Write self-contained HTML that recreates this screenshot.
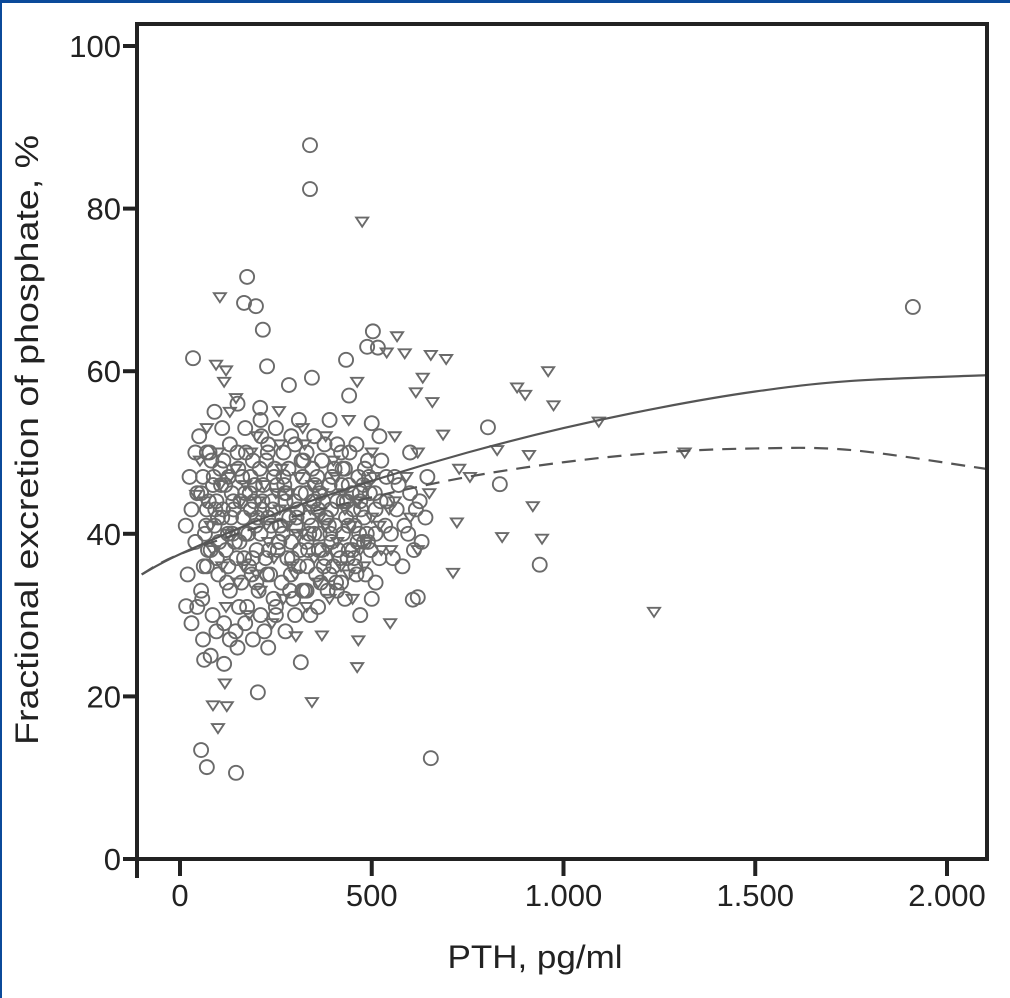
<!DOCTYPE html>
<html><head><meta charset="utf-8"><style>
html,body{margin:0;padding:0;background:#fff}
svg{display:block}
text{font-family:"Liberation Sans",sans-serif;fill:#222}
</style></head><body>
<svg id="chart" width="1010" height="998" viewBox="0 0 1010 998">
<rect x="0" y="0" width="1010" height="998" fill="#fff"/>
<rect x="0" y="0" width="1010" height="3" fill="#0b4a9a"/>
<rect x="0" y="0" width="2" height="998" fill="#0b4a9a"/>
<g id="marks"></g>
<g id="curves"></g>
<g id="axes"></g>
<text x="38" y="440" font-size="32" text-anchor="middle" textLength="610" lengthAdjust="spacingAndGlyphs" transform="rotate(-90 38 440)">Fractional excretion of phosphate, %</text>
<text x="535" y="968" font-size="32" text-anchor="middle" textLength="175" lengthAdjust="spacingAndGlyphs">PTH, pg/ml</text>
</svg>
<script>
const xTicks=[0,500,1000,1500,2000];
const xTickLabels=["0","500","1.000","1.500","2.000"];
const yTicks=[0,20,40,60,80,100];
const yTickLabels=["0","20","40","60","80","100"];
const circleX=[339,339,1911,175,167,198,216,34,227,503,516,654,146,55,70,938,834,803,607,16,620,315,63,203,433,441,488,209,284,344,500,
60,75,90,105,120,135,150,165,180,195,210,225,240,255,270,285,300,315,330,345,360,375,390,405,420,435,450,465,480,495,510,525,540,555,570,585,600,615,630,645,
40,55,70,85,100,115,130,145,160,175,190,205,220,235,250,265,280,295,310,325,340,355,370,385,400,420,440,460,480,500,520,550,580,610,640,
50,70,90,110,130,150,170,190,210,230,250,270,290,310,330,350,370,390,410,430,460,490,520,560,600,
30,45,65,80,95,110,125,140,155,170,185,200,215,230,245,260,275,290,305,320,335,350,365,380,395,410,425,440,455,470,490,510,535,565,595,625,
60,80,95,115,130,150,170,190,210,230,250,275,300,330,360,390,430,470,510,20,30,45,15,25,40,
70,88,102,118,133,148,162,178,193,208,223,238,253,268,283,298,313,328,343,358,373,388,403,418,433,448,463,478,493,508,523,538,
55,68,82,96,112,127,143,158,172,187,202,217,232,247,262,277,292,307,322,337,352,367,382,397,412,427,442,457,472,487,
62,77,92,107,122,137,152,167,182,197,212,227,242,257,272,287,302,317,332,347,362,377,392,407,422,437,452,467,482,497,
58,73,86,99,113,126,139,154,169,184,199,214,229,244,259,274,289,304,319,334,349,364,379,394,409,424,439,454,469,484];
const circleY=[87.8,82.4,67.9,71.6,68.4,68,65.1,61.6,60.6,64.9,62.9,12.4,10.6,13.4,11.3,36.2,46.1,53.1,31.9,31.1,32.2,24.2,24.5,20.5,61.4,57,63,55.5,58.3,59.2,53.6,
47,44,41,48,38,45,50,42,36,46,40,49,44,38,47,42,51,45,39,48,43,36,46,41,50,44,38,47,42,45,40,49,44,37,46,41,50,43,39,47,
39,33,36,30,35,29,33,28,34,31,37,33,28,35,30,34,37,32,36,33,30,35,38,33,36,34,38,35,39,32,37,40,36,38,42,
52,50,55,53,51,56,53,49,54,51,53,50,52,54,50,52,49,54,51,48,51,49,52,47,45,
43,45,40,38,44,42,40,43,39,45,43,38,44,42,47,41,44,39,43,47,42,40,45,42,39,44,40,46,41,44,39,43,41,43,40,44,
27,25,28,24,27,26,29,27,30,26,31,28,30,33,31,35,32,30,34,35,29,31,41,47,50,
43,47,39,46,42,37,47,40,44,48,37,41,46,40,48,44,38,45,41,47,44,41,48,37,42,45,39,46,47,45,44,47,
45,41,49,37,43,47,39,44,50,35,42,46,38,48,41,45,37,43,49,40,46,34,42,47,38,44,50,36,43,40,
36,50,43,46,34,40,48,37,45,41,52,35,43,39,46,33,41,49,36,44,38,51,40,34,46,37,43,40,48,38,
32,38,46,42,49,36,44,31,40,47,34,43,50,32,39,45,35,42,33,38,44,40,37,43,33,48,41,37,45,35];
const triX=[475,104,566,694,960,974,879,900,1092,1316,1236,944,840,712,827,728,722,462,465,344,302,548,370,86,99,122,117,539,462,654,658,615,633,586,258,146,120,115,94,42,52,686,756,920,910,
100,130,160,190,220,250,280,310,340,370,400,430,460,490,520,560,590,620,650,80,110,140,170,200,230,260,290,320,350,380,410,440,470,500,550,600,120,150,180,210,240,270,300,330,360,390,420,450,480,70,130,200,260,320,380,440,500,560,620,
65,85,105,125,145,165,185,205,225,245,265,285,305,325,345,365,385,405,425,445,465,485,505,525,545];
const triY=[78.4,69.1,64.3,61.5,60,55.8,58,57.1,53.8,50,30.4,39.4,39.6,35.2,50.3,48,41.4,23.6,26.9,19.3,27.4,29,27.5,18.9,16.1,18.8,21.6,62.3,58.7,62,56.2,57.4,59.2,62.2,55.1,56.7,60.1,58.7,60.8,44.8,49,52.2,47,43.4,49.7,
50,47,44,42,46,45,41,47,43,45,49,43,44,46,41,44,47,38,45,41,36,40,46,35,39,43,36,40,37,41,39,35,38,42,38,42,31,34,30,33,29,32,35,31,34,32,36,32,36,53,55,52,51,53,52,54,50,52,50,
44,38,46,40,48,36,50,44,41,37,48,45,40,51,46,42,38,47,45,41,44,39,47,38,43];
const solidX=[-100,0,250,500,750,1000,1250,1500,1750,2100];
const solidY=[35,37.5,42.5,46.5,50,53,55.5,57.5,58.8,59.5];
const dashX=[-100,0,250,500,750,1000,1250,1500,1750,2100];
const dashY=[35,37.5,41.5,44.5,47,48.8,50,50.5,50.3,48];

const NS="http://www.w3.org/2000/svg";
const L=137,R=987,T=24,B=859;
function sx(v){return 180+v*0.3835;}
function sy(v){return B-v*8.13;}
function mk(t,a,p){const e=document.createElementNS(NS,t);for(const k in a)e.setAttribute(k,a[k]);p.appendChild(e);return e;}
const marks=document.getElementById('marks');
for(let i=0;i<triX.length;i++){
  const x=sx(triX[i]),y=sy(triY[i]);
  const e=mk('polygon',{points:`${x-6},${y-4} ${x+6},${y-4} ${x},${y+5}`,fill:'none',stroke:'#6a6a6a','stroke-width':1.9},marks);
  
  
}
for(let i=0;i<circleX.length;i++){
  const e=mk('circle',{cx:sx(circleX[i]),cy:sy(circleY[i]),r:7,fill:'none',stroke:'#6a6a6a','stroke-width':1.9},marks);
  
  
}
const curves=document.getElementById('curves');
function pathFrom(xs,ys){
  const p=xs.map((v,i)=>[sx(v),sy(ys[i])]);
  let d=`M${p[0][0]},${p[0][1]}`;
  for(let i=0;i<p.length-1;i++){
    const p0=p[i-1]||p[i],p1=p[i],p2=p[i+1],p3=p[i+2]||p2;
    d+=` C${p1[0]+(p2[0]-p0[0])/6},${p1[1]+(p2[1]-p0[1])/6} ${p2[0]-(p3[0]-p1[0])/6},${p2[1]-(p3[1]-p1[1])/6} ${p2[0]},${p2[1]}`;
  }
  return d;
}
const clip=mk('clipPath',{id:'pc'},mk('defs',{},document.getElementById('chart')));
mk('rect',{x:L,y:T,width:R-L,height:B-T},clip);
curves.setAttribute('clip-path','url(#pc)');
const s=mk('path',{d:pathFrom(solidX,solidY),fill:'none',stroke:'#555','stroke-width':2.2},curves);


const ds=mk('path',{d:pathFrom(dashX,dashY),fill:'none',stroke:'#555','stroke-width':2.2,'stroke-dasharray':'14 9'},curves);



const axes=document.getElementById('axes');
const box=mk('path',{d:`M${L},${T} H${R} V${B} H${L} Z`,fill:'none',stroke:'#222','stroke-width':4},axes);


const ext=mk('line',{x1:L,y1:B,x2:L,y2:878,stroke:'#222','stroke-width':4},axes);


yTicks.forEach((v,i)=>{
  const t=mk('line',{x1:123,x2:L,y1:sy(v),y2:sy(v),stroke:'#222','stroke-width':4},axes);
  
  
  const l=mk('text',{x:121,y:sy(v)+11,'font-size':31,'text-anchor':'end'},axes);
  l.textContent=yTickLabels[i];
  
  
});
xTicks.forEach((v,i)=>{
  const t=mk('line',{x1:sx(v),x2:sx(v),y1:B,y2:876,stroke:'#222','stroke-width':4},axes);
  
  
  const l=mk('text',{x:sx(v),y:906,'font-size':31,'text-anchor':'middle'},axes);
  l.textContent=xTickLabels[i];
  
  
});
</script>
</body></html>
